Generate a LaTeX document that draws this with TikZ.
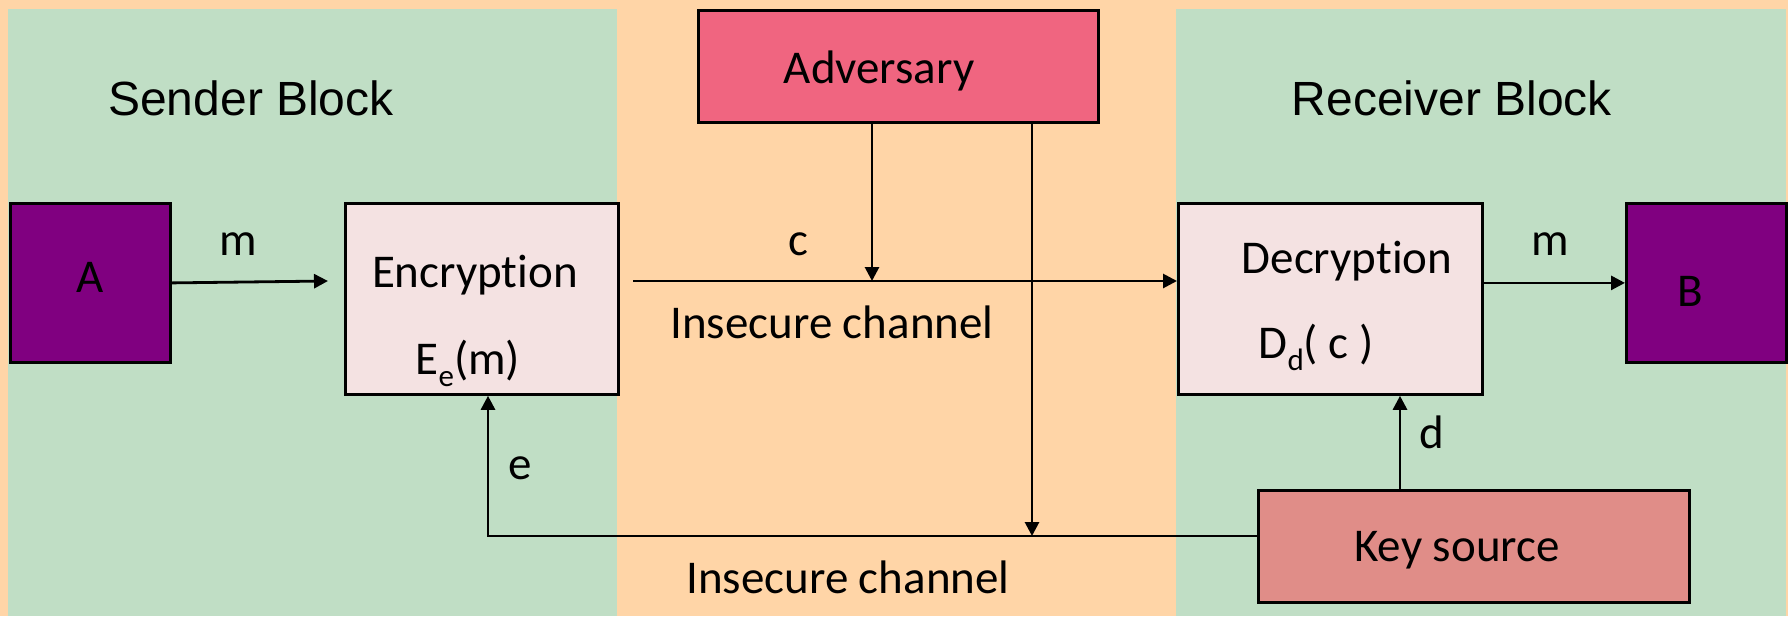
\documentclass[tikz,border=0pt]{standalone}
\usepackage{fontspec}
\setmainfont{Carlito}[Ligatures=NoCommon]
\newfontfamily\arialf{Liberation Sans}
\usetikzlibrary{arrows.meta,calc}

\definecolor{peach}{RGB}{255,213,167}
\definecolor{panelgreen}{RGB}{192,222,197}
\definecolor{advred}{RGB}{240,101,128}
\definecolor{keyred}{RGB}{224,141,136}
\definecolor{procpink}{RGB}{244,226,226}
\definecolor{partyviolet}{RGB}{128,0,128}

% lowered, smaller index letter
\newcommand{\lowidx}[1]{\raisebox{-6pt}{\fontsize{15.5}{18}\selectfont #1}}

\tikzset{
  box/.style={draw=black, line width=1.4pt, anchor=north west, inner sep=0pt},
  lbl/.style={anchor=base, inner sep=0pt, font=\fontsize{23.5}{28}\selectfont},
  head/.style={anchor=base, inner sep=0pt, font=\arialf\fontsize{24}{28}\selectfont},
  arr/.style={line width=1.4pt, -{Triangle[length=7pt,width=7pt]}}
}

\begin{document}
\begin{tikzpicture}[x=0.5pt,y=-0.5pt]
  % canvas and the two party panels
  \useasboundingbox (0,0) rectangle (1788,616);
  \fill[peach] (0,0) rectangle (1788,616);
  \fill[panelgreen] (8,9) rectangle (617,616);
  \fill[panelgreen] (1176,9) rectangle (1786,616);

  % blocks
  \node[box, fill=advred, minimum width=200pt, minimum height=56pt] (adv) at (697,9) {};
  \node[box, fill=partyviolet, minimum width=80pt, minimum height=79.5pt] (A) at (9,202) {};
  \node[box, fill=procpink, minimum width=136.5pt, minimum height=95.5pt] (enc) at (344,202) {};
  \node[box, fill=procpink, minimum width=152pt, minimum height=95.5pt] (dec) at (1177,202) {};
  \node[box, fill=partyviolet, minimum width=80pt, minimum height=79.5pt] (B) at (1625,202) {};
  \node[box, fill=keyred, minimum width=215.5pt, minimum height=56pt] (key) at (1257,489) {};

  % texts
  \node[head] (sendt) at (251,115) {Sender Block};
  \node[head] (recvt) at (1452,115) {Receiver Block};
  \node[lbl] (advt) at (879,83) {Adversary};
  \node[lbl] (At) at (90,292) {A};
  \node[lbl] (Bt) at (1690,306) {B};
  \node[lbl] (m1) at (238,255) {m};
  \node[lbl] (ct) at (798,255) {c};
  \node[lbl] (m2) at (1550,255) {m};
  \node[lbl] (enct) at (475,287) {Encryption};
  \node[lbl] (encf) at (468,374) {E\lowidx{e}(m)};
  \node[lbl] (dect) at (1347,273) {Decryption};
  \node[lbl] (decf) at (1316,358) {D\lowidx{d}( c )};
  \node[lbl] (ch1) at (832,338) {Insecure channel};
  \node[lbl] (ch2) at (848,593) {Insecure channel};
  \node[lbl] (et) at (520,479) {e};
  \node[lbl] (dt) at (1432,448) {d};
  \node[lbl] (keyt) at (1457,561) {Key source};

  % connector end points
  \coordinate (encin) at (328,281);
  \coordinate (chstart) at (633,281);
  \coordinate (tap1) at (872,281);
  \coordinate (tap2) at (1032,536);
  \coordinate (kturn) at (488,536);
  \coordinate (dkey) at (1400,489);

  % connectors
  \draw[arr] (A.east) -- (encin);
  \draw[arr] (chstart) -- (chstart -| dec.west);
  \draw[arr] (tap1 |- adv.south) -- (tap1);
  \draw[arr] (tap2 |- adv.south) -- (tap2);
  \draw[arr] (kturn -| key.west) -- (kturn) -- (kturn |- enc.south);
  \draw[arr] (dkey) -- (dkey |- dec.south);
  \draw[arr] (B.west -| dec.east) -- (B.west);
\end{tikzpicture}
\end{document}
